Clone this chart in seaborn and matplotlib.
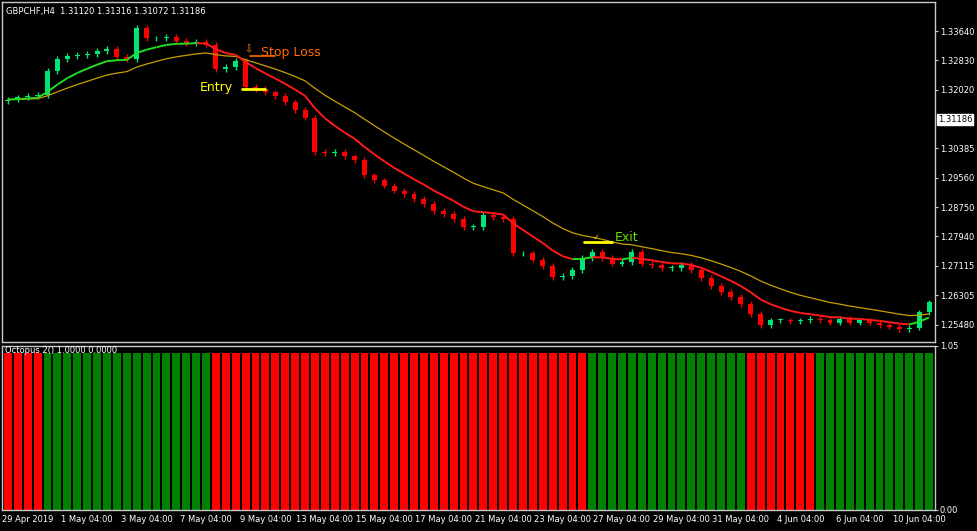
import numpy as np
import pandas as pd
import matplotlib
matplotlib.use("Agg")
import matplotlib.pyplot as plt
import seaborn as sns
from matplotlib.collections import LineCollection

sns.set_style("dark")
plt.rcParams['font.family'] = ['DejaVu Sans']

closes = [1.3174,1.3180,1.3183,1.3186,1.3253,1.3287,1.3296,1.3298,1.3301,1.3310,1.3315,1.3293,1.3287,
          1.3372,1.3344,1.3344,1.3349,1.3338,1.3332,1.3335,1.3327,1.3259,1.3265,1.3282,1.3208,1.3203,
          1.3194,1.3183,1.3166,1.3146,1.3124,1.3028,1.3025,1.3028,1.3016,1.3005,1.2963,1.2949,1.2935,
          1.2921,1.2912,1.2898,1.2884,1.2864,1.2856,1.2842,1.2819,1.2819,1.2853,1.2847,1.2842,1.2746,
          1.2746,1.2729,1.2712,1.2681,1.2684,1.2701,1.2734,1.2751,1.2734,1.2718,1.2723,1.2751,1.2718,
          1.2715,1.2706,1.2706,1.2715,1.2701,1.2678,1.2656,1.2639,1.2625,1.2605,1.2577,1.2548,1.2560,
          1.2560,1.2557,1.2560,1.2565,1.2560,1.2554,1.2565,1.2554,1.2560,1.2554,1.2548,1.2543,1.2537,
          1.2540,1.2582,1.2610]
first_open = 1.3170
wick = 0.0008
signal_runs = [(0, 4), (1, 17), (0, 38), (1, 16), (0, 7), (1, 12)]
price_ticks = [1.33640,1.32830,1.32020,1.30385,1.29560,1.28750,1.27940,1.27115,1.26305,1.25480]
current_price = 1.31186
date_labels = ["29 Apr 2019","1 May 04:00","3 May 04:00","7 May 04:00","9 May 04:00","13 May 04:00",
               "15 May 04:00","17 May 04:00","21 May 04:00","23 May 04:00","27 May 04:00","29 May 04:00",
               "31 May 04:00","4 Jun 04:00","6 Jun 04:00","10 Jun 04:00"]
entry_price = 1.3204
stop_price = 1.3294
exit_price = 1.2778

n = len(closes)
idx = np.arange(n)
opens = [first_open] + closes[:-1]
df = pd.DataFrame({"i": idx, "open": opens, "close": closes})
df["high"] = df[["open", "close"]].max(axis=1) + wick
df["low"] = df[["open", "close"]].min(axis=1) - wick
df["fast"] = df["close"].ewm(span=8, adjust=False).mean()
df["slow"] = df["close"].ewm(span=18, adjust=False).mean()
signal = np.concatenate([np.repeat(v, c) for v, c in signal_runs])

BULL, BEAR = "#00E676", "#FF0000"
FS = 6
fig = plt.figure(figsize=(9.77, 5.31), dpi=100, facecolor="black")
ax = fig.add_axes([0.002, 0.356, 0.955, 0.64], facecolor="black")
ax2 = fig.add_axes([0.002, 0.04, 0.955, 0.309], facecolor="black", sharex=ax)

for a in (ax, ax2):
    for s in a.spines.values():
        s.set_color("#C8C8C8"); s.set_linewidth(1)
    a.grid(False)
    a.yaxis.tick_right()
    a.tick_params(colors="white", labelsize=FS, length=2, pad=1.5, color="#C8C8C8")

col = np.where(df["close"] >= df["open"], BULL, BEAR)
ax.vlines(df["i"], df["low"], df["high"], colors=col, linewidth=1)
body_b = np.minimum(df["open"], df["close"])
body_h = np.maximum(np.abs(df["close"] - df["open"]), 0.00025)
ax.bar(df["i"], body_h, bottom=body_b, width=0.5, color=col, linewidth=0)

sns.lineplot(data=df, x="i", y="slow", ax=ax, color="#C8A000", linewidth=0.9)
pts = np.column_stack([df["i"], df["fast"]])
segs = np.stack([pts[:-1], pts[1:]], axis=1)
fcol = np.where(np.diff(df["fast"]) >= 0, "#22DD22", "#FF1A1A")
ax.add_collection(LineCollection(segs, colors=fcol, linewidths=1.4))

ax.plot([23.6, 26.0], [entry_price, entry_price], color="yellow", lw=2)
ax.text(19.4, entry_price + 0.0003, "Entry", color="yellow", fontsize=9, va="center")
ax.plot([24.4, 27.0], [stop_price, stop_price], color="#FF6A00", lw=1.2)
ax.text(25.6, stop_price + 0.0010, "Stop Loss", color="#FF6A00", fontsize=9, va="center")
ax.text(24.3, stop_price + 0.0020, "⇩", color="#FF9900", fontsize=7, ha="center", va="center")
ax.plot([58.2, 61.0], [exit_price, exit_price], color="yellow", lw=2)
ax.text(61.3, exit_price + 0.0012, "Exit", color="#66E000", fontsize=9, va="center")
ax.text(59.4, exit_price + 0.0012, "✓", color="#FFCC00", fontsize=6, ha="center", va="center")
ax.text(0.004, 0.985, "GBPCHF,H4  1.31120 1.31316 1.31072 1.31186", transform=ax.transAxes,
        color="white", fontsize=FS, va="top")

ax.set_xlim(-0.6, n - 0.4)
ax.set_ylim(1.2500, 1.3445)
ax.set_yticks(price_ticks)
ax.set_yticklabels([f"{t:.5f}" for t in price_ticks])
ax.text(1.003, current_price, f"{current_price:.5f}", transform=ax.get_yaxis_transform(),
        color="black", fontsize=FS, va="center",
        bbox=dict(boxstyle="square,pad=0.12", fc="white", ec="white"))
ax.set_xlabel(""); ax.set_ylabel("")
plt.setp(ax.get_xticklabels(), visible=False)
ax.tick_params(axis="x", length=0)

ax2.bar(idx, np.ones(n), width=0.8, color=np.where(signal == 1, "#008000", "#FF0000"), linewidth=0)
ax2.set_ylim(0, 1.05)
ax2.set_yticks([1.05, 0.0])
ax2.set_yticklabels(["1.05", "0.00"])
ax2.text(0.003, 1.0, "Octopus 2() 1.0000 0.0000", transform=ax2.transAxes, color="white",
         fontsize=FS, va="top")
ticks = np.arange(2, 2 + 6 * len(date_labels), 6)
ax2.set_xticks(ticks)
ax2.set_xticklabels(date_labels)
ax2.tick_params(axis="x", labelsize=FS, length=2)
ax2.set_xlabel(""); ax2.set_ylabel("")

fig.savefig("out.png", dpi=100, facecolor="black")
